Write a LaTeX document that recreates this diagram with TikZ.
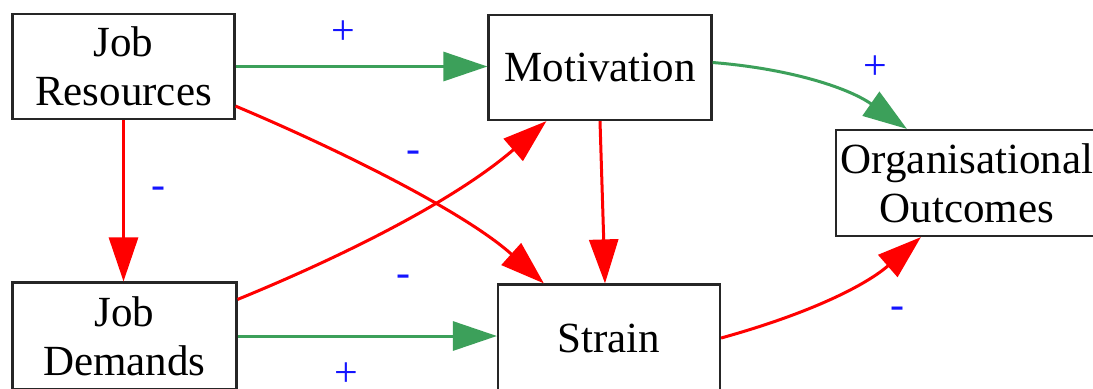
\documentclass[tikz,border=0pt]{standalone}
\usepackage{fontspec}
\setmainfont{Liberation Serif}
\usetikzlibrary{arrows.meta,calc}

\definecolor{posgreen}{RGB}{60,160,90}
\definecolor{negred}{RGB}{255,0,0}
\definecolor{signblue}{RGB}{20,20,255}

\tikzset{
  box/.style={draw=black!85, line width=1.1pt, fill=white, rectangle, align=center,
    inner sep=0pt, font=\fontsize{21.5}{24.5}\selectfont},
  edgebase/.style={line width=1.5pt, -{Triangle[length=22pt,width=14.5pt]}},
  posedge/.style={edgebase, draw=posgreen, posgreen},
  negedge/.style={edgebase, draw=negred, negred},
  sign/.style={text=signblue, inner sep=0pt, font=\fontsize{21}{23}\selectfont}
}

\begin{document}
\begin{tikzpicture}[x=0.5pt,y=-0.5pt]
  \clip (0,0) rectangle (1093,388);
  \fill[white] (0,0) rectangle (1093,388);

  % boxes
  \node[box, minimum width=111pt, minimum height=52.5pt] (jr)  at (123.5,66.5) {Job\\Resources};
  \node[box, minimum width=111.5pt, minimum height=52.5pt] (mot) at (600,67.5) {Motivation};
  \node[box, minimum width=131pt, minimum height=53pt] (org) at (967,183) {Organisational\\Outcomes};
  \node[box, minimum width=112pt, minimum height=53.5pt] (jd)  at (124.5,336) {Job\\Demands};
  \node[box, minimum width=111pt, minimum height=53.5pt] (str) at (609,338) {Strain};

  % attachment points on the box borders
  \coordinate (jrA)  at ($(jr.south east)+(0,-14)$);
  \coordinate (strA) at ($(str.north west)+(47,0)$);
  \coordinate (jdA)  at ($(jd.north east)+(0,18)$);
  \coordinate (motA) at ($(mot.south west)+(59,0)$);
  \coordinate (motB) at ($(mot.east)+(0,-5)$);
  \coordinate (strB) at ($(str.north)+(-4,0)$);
  \coordinate (orgA) at ($(org.north west)+(72,0)$);
  \coordinate (orgB) at ($(org.south west)+(86,0)$);

  % connectors
  \draw[posedge] (jr.east) -- (jr.east -| mot.west);
  \draw[negedge] (jr.south) -- (jr.south |- jd.north);
  \draw[negedge] (jrA) .. controls ($(jrA)+(100,42)$) and ($(strA)+(-80,-72)$) .. (strA);
  \draw[negedge] (jdA) .. controls ($(jdA)+(110,-45)$) and ($(motA)+(-90,78)$) .. (motA);
  \draw[posedge] (jd.east) -- (jd.east -| str.west);
  \draw[negedge] (mot.south) .. controls ($(mot.south)+(2,60)$) .. (strB);
  \draw[posedge] (motB) .. controls ($(motB)+(75,6)$) and ($(orgA)+(-60,-42)$) .. (orgA);
  \draw[negedge] (str.east) .. controls ($(str.east)+(90,-25)$) and ($(orgB)+(-55,48)$) .. (orgB);

  % signs
  \node[sign] (s1) at (343,33)  {+};
  \node[sign] (s2) at (413,157) {-};
  \node[sign] (s3) at (158,193) {-};
  \node[sign] (s4) at (403,281) {-};
  \node[sign] (s5) at (346,375) {+};
  \node[sign] (s6) at (875,68)  {+};
  \node[sign] (s7) at (897,313) {-};
\end{tikzpicture}
\end{document}
